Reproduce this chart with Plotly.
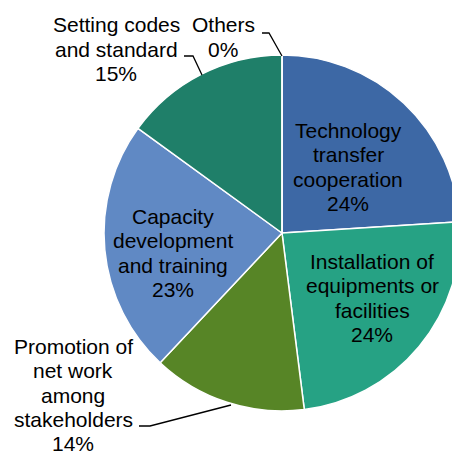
import plotly.graph_objects as go

# slices, clockwise from 12 o'clock
labels = ["Technology<br>transfer<br>cooperation",
          "Installation of<br>equipments or<br>facilities",
          "Promotion of<br>net work<br>among<br>stakeholders",
          "Capacity<br>development<br>and training",
          "Setting codes<br>and standard",
          "Others"]
shares = [24, 24, 14, 23, 15, 0]
colors = ["#3D68A5", "#26A284", "#578526", "#6089C4", "#1F7F69", "#8FA8D0"]

W, H = 470, 455  # wider than the window so the pie is clipped on the right like the original
FONT = dict(family="Arial, Liberation Sans, sans-serif", size=21, color="black")
LINE = 24.3  # line spacing of the data labels, px


def px(x, y):
    return x / W, 1 - y / H


fig = go.Figure(go.Pie(
    labels=labels,
    values=shares,
    sort=False,
    direction="clockwise",
    rotation=0,
    marker=dict(colors=colors, line=dict(color="white", width=1.5)),
    textinfo="none",
    hoverinfo="label+percent",
    showlegend=False,
    domain=dict(x=[104 / W, 460 / W], y=[1 - 411 / H, 1 - 55 / H]),
))

# data labels: (slice, block centre in px, leader line points)
label_spots = [
    (0, (348, 167), None),
    (1, (372, 298), None),
    (3, (173, 253), None),
    (4, (116, 49), [(184, 56), (193, 56), (202, 75)]),
    (5, (223, 37), [(262, 33), (269, 33), (282, 56)]),
    (2, (73, 395), [(139, 426), (150, 426), (231, 405)]),
]
for i, (cx, cy), pts in label_spots:
    lines = labels[i].split("<br>") + [f"{shares[i]}%"]
    top = cy - LINE * (len(lines) - 1) / 2
    for k, txt in enumerate(lines):
        x, y = px(cx, top + k * LINE)
        fig.add_annotation(x=x, y=y, xref="paper", yref="paper", xanchor="center", yanchor="middle",
                           text=txt, showarrow=False, font=FONT)
    if pts:
        path = "M " + " L ".join(f"{px(a, b)[0]},{px(a, b)[1]}" for a, b in pts)
        fig.add_shape(type="path", path=path, xref="paper", yref="paper",
                      line=dict(color="black", width=1.3))

fig.update_layout(width=W, height=H, margin=dict(l=0, r=0, t=0, b=0),
                  paper_bgcolor="white", plot_bgcolor="white")

fig.write_html("out.html", config=dict(displayModeBar=False),
               post_script="document.body.style.margin='0';document.body.style.overflow='hidden';")
